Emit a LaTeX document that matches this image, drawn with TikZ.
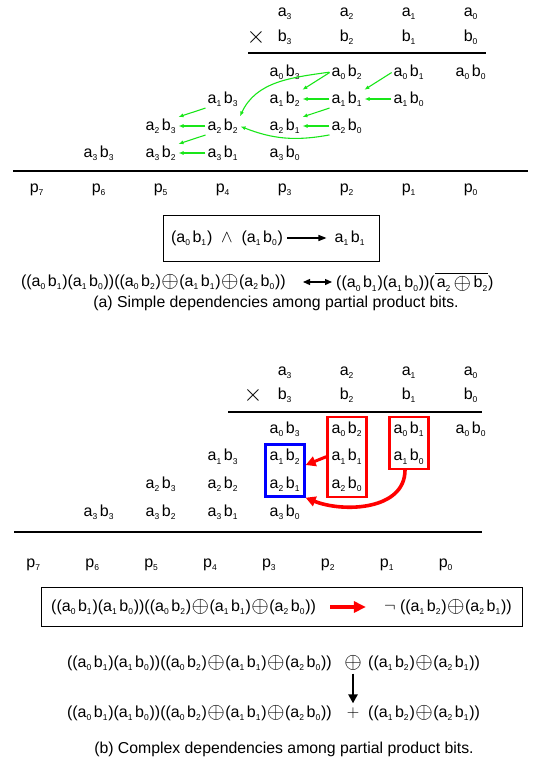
\documentclass[tikz,border=0pt]{standalone}
\usepackage{fontspec}
\setmainfont{Liberation Sans}
\usepackage{graphicx}
\usetikzlibrary{arrows.meta,positioning,calc,fit}

\definecolor{depgreen}{RGB}{25,230,25}
\newcommand{\lo}[1]{\raisebox{-0.4ex}{\fontsize{8.5pt}{9pt}\selectfont #1}\kern0.8pt}
\newcommand{\ab}[2]{a\lo{#1}\kern1.8pt b\lo{#2}}
\newcommand{\xo}{\kern0.5pt\raisebox{-0.15ex}{\scalebox{1.3}{$\oplus$}}\kern0.5pt}
\newcommand{\ovl}[1]{\setbox0\hbox{#1}\rlap{\rule[\dimexpr\ht0+1.5pt\relax]{\wd0}{1.6pt}}\box0}
\newcommand{\andterm}{((\ab01)(\ab10))}
\newcommand{\sumterm}{((\ab02)\xo(\ab11)\xo(\ab20))}
\newcommand{\midterm}{((\ab12)\xo(\ab21))}

\begin{document}
\begin{tikzpicture}[x=1pt,y=1pt,
    font=\fontsize{16pt}{19pt}\selectfont,
    bit/.style={inner sep=1pt},
    rulebar/.style={line width=2.6pt},
    dep/.style={depgreen,line width=1.1pt,-{Latex[length=5pt,width=4pt]},shorten >=1pt,shorten <=1pt},
    hold/.style={line width=2.2pt,inner xsep=3pt,inner ysep=3.5pt},
    redarrow/.style={red,line width=3pt,-{Triangle[length=10pt,width=10pt]}},
    >=Latex]
    \useasboundingbox (0,0) rectangle (551,-757);

    % (a) simple dependencies
    \foreach \k in {0,...,3} {
      \node[bit] (a-a\k) at ({471-62*\k},-14) {a\lo{\k}};
      \node[bit] (a-b\k) at ({471-62*\k},-37) {b\lo{\k}};
    }
    \node[bit,left=10pt of a-b3] (a-times) {\scalebox{1.4}{$\times$}};
    \draw[rulebar] (248,-53) -- (486,-53);
    \foreach \i in {0,...,3} {
      \foreach \j in {0,...,3} {
        \node[bit] (a-\i\j) at ({471-62*(\i+\j)},{-72-27*\i}) {\ab{\i}{\j}};
      }
    }
    \draw[rulebar] (13,-171) -- (528,-171);
    \foreach \k in {0,...,7} {
      \node[bit] (a-p\k) at ({471-62*\k},-190) {p\lo{\k}};
    }

    \draw[dep] (a-02.west) -- (a-12.north east);
    \draw[dep] (a-01.west) -- (a-11.north east);
    \draw[dep] (a-10.west) -- (a-11.east);
    \draw[dep] (a-11.west) -- (a-12.east);
    \draw[dep] (a-11.south west) -- (a-21.north east);
    \draw[dep] (a-20.west) -- (a-21.east);
    \draw[dep] (a-20.south west) to[bend left=16] (a-22.east);
    \draw[dep] (a-02.west) to[out=188,in=65] (a-22.north east);
    \draw[dep] (a-13.south west) -- (a-23.north east);
    \draw[dep] (a-22.west) -- (a-23.east);
    \draw[dep] (a-22.south west) -- (a-32.north east);
    \draw[dep] (a-31.west) -- (a-32.east);

    \node[draw,line width=1pt,minimum width=216,minimum height=46] (a-box) at (271,-238) {};
    \node[bit] (a-conj) at (227,-238) {(\ab01)\ \ $\wedge$\ \ (\ab10)};
    \node[bit] (a-imp) at (350,-238) {\ab11};
    \draw[line width=1.3pt,-{Triangle[length=8pt,width=6pt]},shorten <=3pt,shorten >=7pt] (a-conj) -- (a-imp);

    \node[bit,anchor=east] (a-lhs) at (287,-282) {\andterm\sumterm};
    \node[bit,anchor=west] (a-rhs) at (335,-282) {\andterm(\ovl{\kern2pt a\lo{2}\kern2pt\xo\kern2pt b\lo{2}})};
    \draw[line width=1.3pt,{Triangle[length=7pt,width=6pt]}-{Triangle[length=7pt,width=6pt]},shorten <=16pt,shorten >=3pt] (a-lhs) -- (a-rhs);

    \node[font=\fontsize{15.8pt}{19pt}\selectfont] (a-cap) at (276,-303) {(a) Simple dependencies among partial product bits.};

    % (b) complex dependencies
    \foreach \k in {0,...,3} {
      \node[bit] (b-a\k) at ({471-62*\k},-373) {a\lo{\k}};
      \node[bit] (b-b\k) at ({471-62*\k},-395) {b\lo{\k}};
    }
    \node[bit,left=13pt of b-b3] (b-times) {\scalebox{1.4}{$\times$}};
    \draw[rulebar] (228,-412) -- (482,-412);
    \foreach \i in {0,...,3} {
      \foreach \j in {0,...,3} {
        \node[bit] (b-\i\j) at ({471-62*(\i+\j)},{-429-27.7*\i}) {\ab{\i}{\j}};
      }
    }
    \draw[rulebar] (14,-532) -- (482,-532);
    \foreach \k in {0,...,7} {
      \node[bit] (b-p\k) at ({446-58.9*\k},-565) {p\lo{\k}};
    }

    \node[hold,draw=blue,fit=(b-12)(b-21)] (b-blue) {};
    \node[hold,draw=red,fit=(b-02)(b-20)] (b-red2) {};
    \node[hold,draw=red,fit=(b-01)(b-10)] (b-red1) {};
    \draw[redarrow] (b-red2.west) -- (b-blue.15);
    \draw[redarrow,line width=3.6pt] ([xshift=-4pt]b-red1.south) to[out=-90,in=-22] (b-blue.south east);

    \node[draw,line width=1pt,minimum width=481,minimum height=39] (b-box) at (281.5,-606.5) {};
    \node[bit,anchor=west] (b-lhs) at (50,-607) {\andterm\sumterm};
    \node[bit,anchor=east] (b-rhs) at (513,-607) {$\neg$\ \midterm};
    \draw[red,line width=4pt,-{Triangle[length=12pt,width=11pt]},shorten <=13pt,shorten >=17pt] (b-lhs) -- (b-rhs);

    \node[bit,anchor=east] (b-l1) at (333,-663) {\andterm\sumterm};
    \node[bit] (b-xor) at (353,-663) {\xo};
    \node[bit,anchor=west] (b-r1) at (367,-663) {\midterm};
    \node[bit,anchor=east] (b-l2) at (333,-713) {\andterm\sumterm};
    \node[bit] (b-or) at (353,-713) {$+$};
    \node[bit,anchor=west] (b-r2) at (367,-713) {\midterm};
    \draw[line width=2.5pt,-{Triangle[length=9pt,width=9pt]},shorten <=2pt,shorten >=3pt] (b-xor) -- (b-or);

    \node[font=\fontsize{15.8pt}{19pt}\selectfont] (b-cap) at (284,-749) {(b) Complex dependencies among partial product bits.};
  \end{tikzpicture}
\end{document}
